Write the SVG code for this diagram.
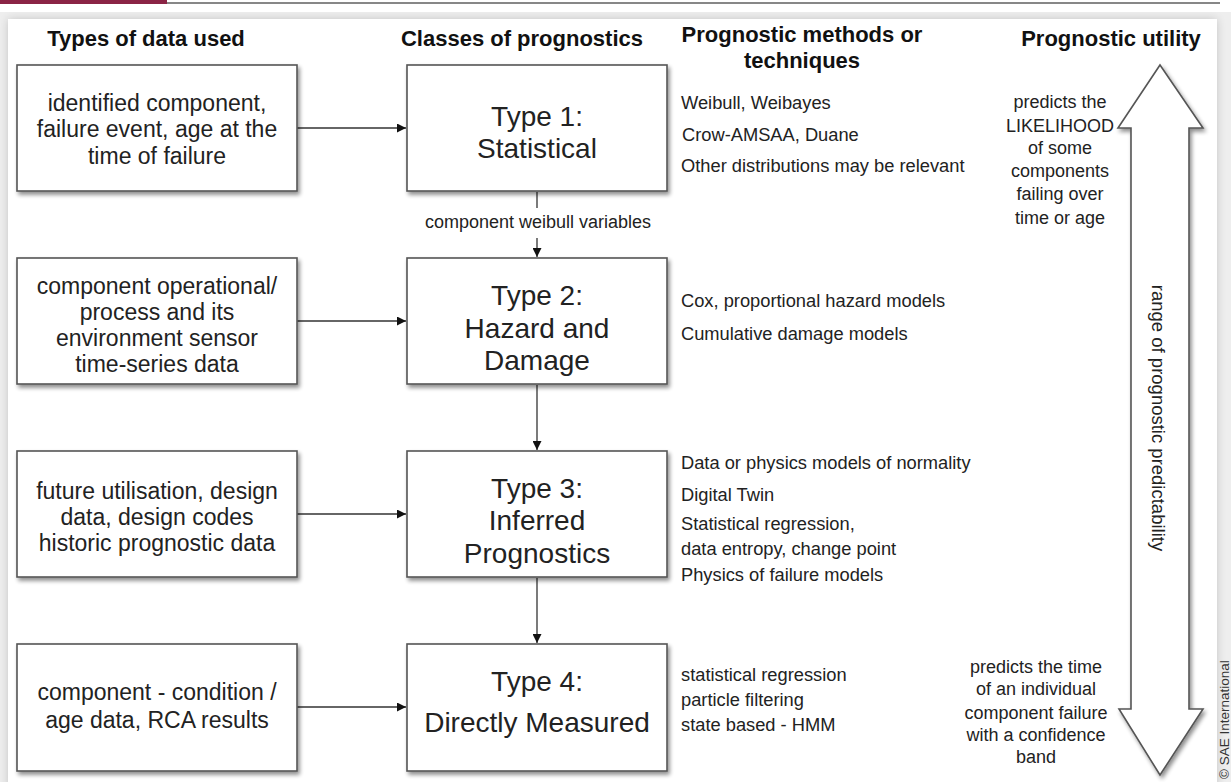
<svg xmlns="http://www.w3.org/2000/svg" width="1231" height="782" viewBox="0 0 1231 782">
  <defs>
    <filter id="shadow" x="-10%" y="-10%" width="130%" height="130%">
      <feGaussianBlur in="SourceAlpha" stdDeviation="2"/>
      <feOffset dx="2" dy="3" result="b"/>
      <feComponentTransfer><feFuncA type="linear" slope="0.45"/></feComponentTransfer>
      <feMerge><feMergeNode/><feMergeNode in="SourceGraphic"/></feMerge>
    </filter>
    <filter id="pageShadow" x="-5%" y="-5%" width="110%" height="110%">
      <feGaussianBlur in="SourceAlpha" stdDeviation="5"/>
      <feComponentTransfer><feFuncA type="linear" slope="0.18"/></feComponentTransfer>
      <feMerge><feMergeNode/><feMergeNode in="SourceGraphic"/></feMerge>
    </filter>
    <marker id="head" viewBox="0 0 10 10" refX="10" refY="5" markerWidth="10" markerHeight="9" markerUnits="userSpaceOnUse" orient="auto">
      <path d="M0,0 L10,5 L0,10 z" fill="#111"/>
    </marker>
  </defs>
  <style>
    text { font-family: "Liberation Sans", Arial, sans-serif; fill: #222; }
    .hdr { font-size: 22px; font-weight: bold; text-anchor: middle; fill: #111; }
    .data { font-size: 23px; text-anchor: middle; }
    .cls { font-size: 28px; text-anchor: middle; }
    .meth { font-size: 18.3px; }
    .util { font-size: 18px; text-anchor: middle; }
    .lbl { font-size: 18px; text-anchor: middle; }
    .box { fill: #fff; stroke: #555; stroke-width: 1.6; filter: url(#shadow); }
    .conn { stroke: #333; stroke-width: 1.3; fill: none; }
  </style>

  <!-- page surround -->
  <rect x="0" y="0" width="1231" height="782" fill="#eeeeee"/>
  <rect x="8" y="19" width="1209" height="770" fill="#ffffff" filter="url(#pageShadow)"/>
  <rect x="0" y="0" width="1231" height="12" fill="#ffffff"/>
  <rect x="0" y="0" width="167" height="4" fill="#8a2445"/>
  <line x1="167" y1="3" x2="1220" y2="3" stroke="#111" stroke-width="1.2"/>
  <text transform="translate(1229,779) rotate(-90)" font-size="13.5" style="fill:#333">© SAE International</text>

  <!-- column headings -->
  <text class="hdr" x="146" y="46">Types of data used</text>
  <text class="hdr" x="522" y="46">Classes of prognostics</text>
  <text class="hdr" x="802" y="42">Prognostic methods or</text>
  <text class="hdr" x="802" y="68">techniques</text>
  <text class="hdr" x="1111" y="46">Prognostic utility</text>

  <!-- connectors -->
  <g id="connectors">
    <line class="conn" x1="297" y1="128" x2="406" y2="128" marker-end="url(#head)"/>
    <line class="conn" x1="297" y1="321" x2="406" y2="321" marker-end="url(#head)"/>
    <line class="conn" x1="297" y1="514" x2="406" y2="514" marker-end="url(#head)"/>
    <line class="conn" x1="297" y1="707" x2="406" y2="707" marker-end="url(#head)"/>
    <line class="conn" x1="537" y1="192" x2="537" y2="208"/>
    <text class="lbl" x="538" y="228">component weibull variables</text>
    <line class="conn" x1="537" y1="238" x2="537" y2="257" marker-end="url(#head)"/>
    <line class="conn" x1="537" y1="385" x2="537" y2="450" marker-end="url(#head)"/>
    <line class="conn" x1="537" y1="578" x2="537" y2="643" marker-end="url(#head)"/>
  </g>

  <!-- data sources -->
  <g id="data1">
    <rect class="box" x="17" y="65" width="280" height="126"/>
    <text class="data" x="157" y="111">identified component,</text>
    <text class="data" x="157" y="137">failure event, age at the</text>
    <text class="data" x="157" y="164">time of failure</text>
  </g>
  <g id="data2">
    <rect class="box" x="17" y="258" width="280" height="126"/>
    <text class="data" x="157" y="294">component operational/</text>
    <text class="data" x="157" y="320">process and its</text>
    <text class="data" x="157" y="346">environment sensor</text>
    <text class="data" x="157" y="372">time-series data</text>
  </g>
  <g id="data3">
    <rect class="box" x="17" y="451" width="280" height="126"/>
    <text class="data" x="157" y="499">future utilisation, design</text>
    <text class="data" x="157" y="525">data, design codes</text>
    <text class="data" x="157" y="551">historic prognostic data</text>
  </g>
  <g id="data4">
    <rect class="box" x="17" y="644" width="280" height="127"/>
    <text class="data" x="157" y="700">component - condition /</text>
    <text class="data" x="157" y="728">age data, RCA results</text>
  </g>

  <!-- prognostic classes -->
  <g id="type1">
    <rect class="box" x="407" y="65" width="260" height="126"/>
    <text class="cls" x="537" y="126">Type 1:</text>
    <text class="cls" x="537" y="158">Statistical</text>
  </g>
  <g id="type2">
    <rect class="box" x="407" y="258" width="260" height="126"/>
    <text class="cls" x="537" y="305">Type 2:</text>
    <text class="cls" x="537" y="338">Hazard and</text>
    <text class="cls" x="537" y="370">Damage</text>
  </g>
  <g id="type3">
    <rect class="box" x="407" y="451" width="260" height="126"/>
    <text class="cls" x="537" y="498">Type 3:</text>
    <text class="cls" x="537" y="530">Inferred</text>
    <text class="cls" x="537" y="563">Prognostics</text>
  </g>
  <g id="type4">
    <rect class="box" x="407" y="644" width="260" height="127"/>
    <text class="cls" x="537" y="691">Type 4:</text>
    <text class="cls" x="537" y="732">Directly Measured</text>
  </g>

  <!-- methods -->
  <g id="methods1">
    <text class="meth" x="681" y="109">Weibull, Weibayes</text>
    <text class="meth" x="682" y="141">Crow-AMSAA, Duane</text>
    <text class="meth" x="681" y="172">Other distributions may be relevant</text>
  </g>
  <g id="methods2">
    <text class="meth" x="681" y="307">Cox, proportional hazard models</text>
    <text class="meth" x="681" y="340">Cumulative damage models</text>
  </g>
  <g id="methods3">
    <text class="meth" x="681" y="469">Data or physics models of normality</text>
    <text class="meth" x="681" y="501">Digital Twin</text>
    <text class="meth" x="681" y="530">Statistical regression,</text>
    <text class="meth" x="681" y="555">data entropy, change point</text>
    <text class="meth" x="681" y="581">Physics of failure models</text>
  </g>
  <g id="methods4">
    <text class="meth" x="681" y="681">statistical regression</text>
    <text class="meth" x="681" y="706">particle filtering</text>
    <text class="meth" x="681" y="731">state based - HMM</text>
  </g>

  <!-- utility range -->
  <g id="utility">
    <path d="M1160,65 L1203,128 L1189,128 L1189,709 L1203,709 L1160,775 L1119,709 L1131,709 L1131,128 L1118,128 Z" fill="#fff" stroke="#555" stroke-width="1.6" filter="url(#shadow)"/>
    <text transform="translate(1152,418) rotate(90)" font-size="18.5" text-anchor="middle">range of prognostic predictability</text>
    <text class="util" x="1060" y="108">predicts the</text>
    <text class="util" x="1060" y="132">LIKELIHOOD</text>
    <text class="util" x="1060" y="154">of some</text>
    <text class="util" x="1060" y="177">components</text>
    <text class="util" x="1060" y="200">failing over</text>
    <text class="util" x="1060" y="224">time or age</text>
    <text class="util" x="1036" y="673">predicts the time</text>
    <text class="util" x="1036" y="695">of an individual</text>
    <text class="util" x="1036" y="719">component failure</text>
    <text class="util" x="1036" y="741">with a confidence</text>
    <text class="util" x="1036" y="763">band</text>
  </g>
</svg>
